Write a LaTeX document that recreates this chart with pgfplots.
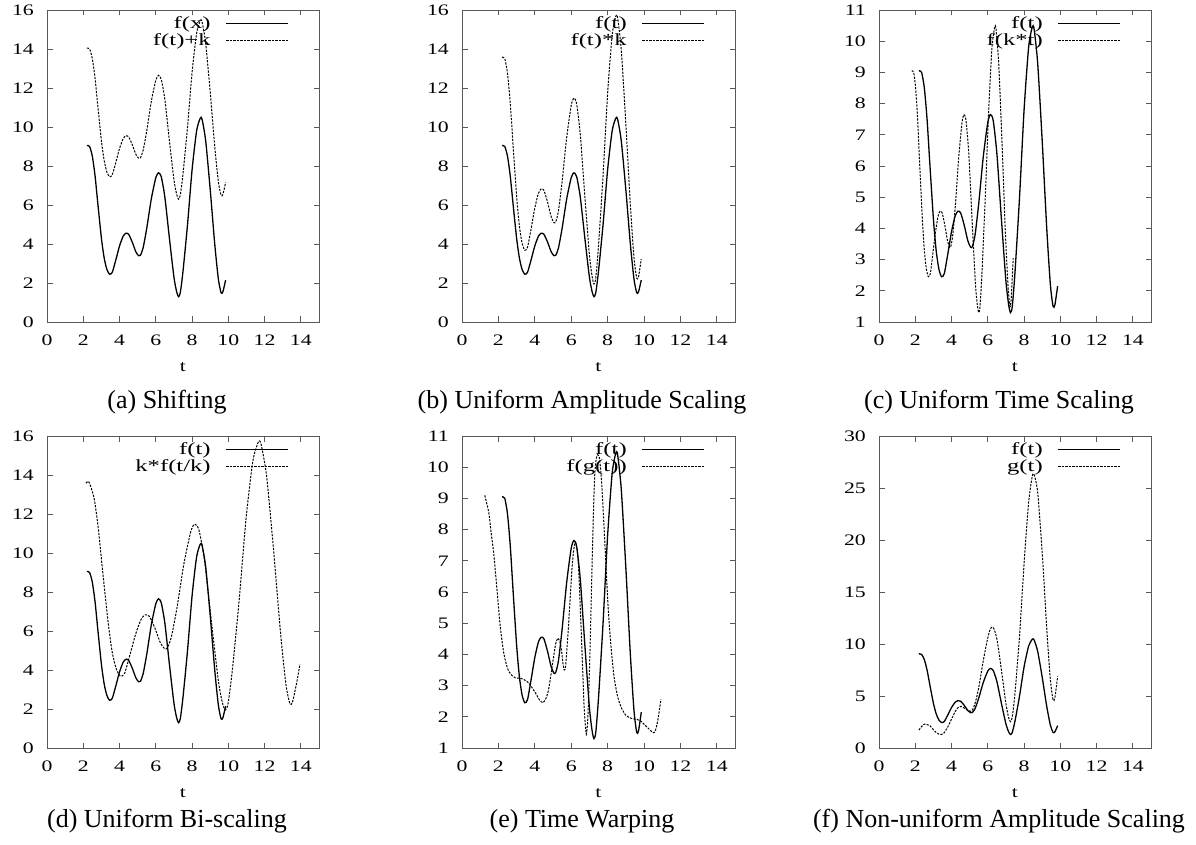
\documentclass[border=0pt]{standalone}
\usepackage{pgfplots}
\pgfplotsset{compat=1.18}
\usepackage{pgfplotstable}
\usepackage{graphicx}
\usepackage{fontspec}
\setmainfont{Liberation Serif}
\newcommand{\gps}[1]{\scalebox{1.36}[1]{\fontsize{16}{18}\selectfont #1}}
\newcommand{\gpl}[1]{\scalebox{1.45}[1]{\fontsize{17}{19}\selectfont #1}}

\pgfplotstableread{
t f fa fb g
2.20 9.05 14.05 13.58 1.72
2.35 9.00 14.00 13.50 2.07
2.50 8.50 13.50 12.75 2.30
2.65 7.50 12.50 11.25 2.25
2.80 6.10 11.10 9.15 2.15
3.00 4.30 9.30 6.45 1.76
3.15 3.30 8.30 4.95 1.50
3.30 2.70 7.70 4.05 1.33
3.45 2.45 7.45 3.68 1.30
3.60 2.55 7.55 3.83 1.48
3.80 3.20 8.20 4.80 2.05
4.00 3.90 8.90 5.85 2.77
4.20 4.40 9.40 6.60 3.50
4.35 4.55 9.55 6.83 3.87
4.50 4.50 9.50 6.75 4.00
4.70 4.10 9.10 6.15 3.85
4.90 3.60 8.60 5.40 3.60
5.05 3.40 8.40 5.10 3.53
5.15 3.42 8.42 5.13 3.64
5.30 3.80 8.80 5.70 4.30
5.50 4.80 9.80 7.20 5.80
5.75 6.30 11.30 9.45 8.40
6.00 7.40 12.40 11.10 10.60
6.15 7.65 12.65 11.48 11.48
6.30 7.45 12.45 11.18 11.60
6.50 6.40 11.40 9.60 10.50
6.75 4.30 9.30 6.45 7.50
7.00 2.30 7.30 3.45 4.25
7.15 1.55 6.55 2.33 2.90
7.25 1.30 6.30 1.95 2.54
7.35 1.50 6.50 2.25 2.99
7.50 2.60 7.60 3.90 5.30
7.75 5.00 10.00 7.50 10.80
8.00 7.80 12.80 11.70 17.70
8.25 9.80 14.80 14.70 23.60
8.45 10.45 15.45 15.68 26.10
8.55 10.40 15.40 15.60 26.30
8.75 9.30 14.30 13.95 24.60
9.00 6.80 11.80 10.20 18.80
9.25 4.00 9.00 6.00 11.50
9.45 2.20 7.20 3.30 6.60
9.60 1.50 6.50 2.25 4.60
9.70 1.55 6.55 2.33 4.84
9.85 2.15 7.15 3.23 6.88
}\base

\pgfplotstableread{
x y
1.80 9.05
1.91 9.00
2.02 8.50
2.13 7.50
2.24 6.10
2.39 4.30
2.50 3.30
2.61 2.70
2.72 2.45
2.83 2.55
2.97 3.20
3.12 3.90
3.26 4.40
3.37 4.55
3.48 4.50
3.63 4.10
3.78 3.60
3.89 3.40
3.96 3.42
4.07 3.80
4.22 4.80
4.40 6.30
4.58 7.40
4.69 7.65
4.80 7.45
4.95 6.40
5.13 4.30
5.31 2.30
5.42 1.55
5.50 1.30
5.57 1.50
5.68 2.60
5.86 5.00
6.05 7.80
6.23 9.80
6.38 10.45
6.45 10.40
6.60 9.30
6.78 6.80
6.96 4.00
7.11 2.20
7.22 1.50
7.29 1.75
7.40 3.05
}\cdash

\pgfplotstableread{
x y
2.15 13.58
2.27 13.68
2.38 13.50
2.61 12.75
2.83 11.25
3.06 9.15
3.37 6.45
3.59 4.95
3.82 4.05
4.05 3.68
4.28 3.83
4.58 4.80
4.89 5.85
5.19 6.60
5.42 6.83
5.65 6.75
5.95 6.15
6.25 5.40
6.48 5.10
6.63 5.13
6.86 5.70
7.17 7.20
7.55 9.45
7.93 11.10
8.15 11.48
8.38 11.18
8.69 9.60
9.07 6.45
9.45 3.45
9.67 2.33
9.83 1.95
9.98 2.25
10.21 3.90
10.59 7.50
10.97 11.70
11.35 14.70
11.65 15.68
11.80 15.60
12.11 13.95
12.49 10.20
12.87 6.00
13.17 3.30
13.40 2.25
13.55 2.40
13.78 3.40
13.95 4.30
}\ddash

\pgfplotstableread{
x y
1.25 9.10
1.47 8.55
1.60 7.90
1.74 7.26
1.92 6.09
2.10 4.90
2.29 4.06
2.45 3.65
2.56 3.47
2.75 3.32
2.93 3.25
3.30 3.22
3.66 3.09
4.03 2.77
4.25 2.55
4.45 2.45
4.62 2.60
4.76 2.88
4.90 3.40
5.04 3.95
5.15 4.35
5.27 4.52
5.38 4.40
5.46 4.16
5.55 3.70
5.62 3.50
5.70 3.65
5.86 5.00
6.04 6.73
6.15 7.40
6.23 7.60
6.32 7.40
6.41 6.73
6.56 4.60
6.70 2.45
6.78 1.70
6.83 1.44
6.90 1.80
6.96 2.67
7.05 4.50
7.14 6.73
7.22 8.50
7.29 9.72
7.37 10.25
7.45 10.40
7.55 10.30
7.65 9.70
7.75 8.70
7.88 7.20
8.02 5.60
8.18 4.30
8.35 3.30
8.55 2.65
8.75 2.30
9.00 2.05
9.30 1.95
9.60 1.92
9.85 1.85
10.15 1.68
10.50 1.49
10.62 1.55
10.73 1.80
10.83 2.15
10.93 2.56
}\edash

\pgfplotsset{
  gp/.style={
    scale only axis, width=272pt, height=312pt,
    xmin=0, xmax=15, xtick={0,2,...,14},
    tick align=inside, major tick length=5.5pt,
    axis line style={black!65, line width=0.9pt},
    every tick/.style={black!65, line width=0.8pt},
    xticklabel={\gps{\pgfmathprintnumber[assume math mode=true]{\tick}}},
    yticklabel={\gps{\pgfmathprintnumber[assume math mode=true]{\tick}}},
    xticklabel style={anchor=north, inner sep=0pt, yshift=-12.5pt},
    yticklabel style={anchor=east, inner sep=0pt, xshift=-13pt},
    xlabel={\gps{t}},
    xlabel style={at={(axis description cs:0.5,0)}, anchor=center, yshift=-45pt, inner sep=0pt},
    legend style={draw=none, fill=none, at={(axis description cs:1,1)}, anchor=north east,
      xshift=-30pt, yshift=-7pt, inner sep=0pt, outer sep=0pt,
      column sep=15pt, row sep=3pt, nodes={inner sep=0pt}},
    legend plot pos=right, legend cell align=right,
    legend image code/.code={\draw[##1] (0pt,0pt) -- (62pt,0pt);},
  },
  sol/.style={black, line width=1.3pt, smooth, tension=0.4, mark=none},
  dsh/.style={black, line width=1.0pt, dash pattern=on 2.2pt off 1.3pt, smooth, tension=0.4, mark=none},
}

\begin{document}
\begin{tikzpicture}
\useasboundingbox (0pt,0pt) rectangle (1196pt,844pt);
\tikzset{mycap/.style={font=\fontsize{26}{30}\selectfont, inner sep=0pt}}

% (a)
\begin{axis}[gp, at={(47pt,522pt)}, anchor=south west, ymin=0, ymax=16, ytick={0,2,...,16}]
\addplot[sol] table[x=t, y=f] {\base};
\addlegendentry{\gpl{f(x)}}
\addplot[dsh] table[x=t, y=fa] {\base};
\addlegendentry{\gpl{f(t)+k}}
\end{axis}
\node[mycap] at (167pt,442pt) {(a) Shifting};

% (b)
\begin{axis}[gp, width=273pt, at={(462pt,522pt)}, anchor=south west, ymin=0, ymax=16, ytick={0,2,...,16}]
\addplot[sol] table[x=t, y=f] {\base};
\addlegendentry{\gpl{f(t)}}
\addplot[dsh] table[x=t, y=fb] {\base};
\addlegendentry{\gpl{f(t)*k}}
\end{axis}
\node[mycap] at (582pt,442pt) {(b) Uniform Amplitude Scaling};

% (c)
\begin{axis}[gp, at={(879pt,522pt)}, anchor=south west, ymin=1, ymax=11, ytick={1,2,...,11}]
\addplot[sol] table[x=t, y=f] {\base};
\addlegendentry{\gpl{f(t)}}
\addplot[dsh] table[x=x, y=y] {\cdash};
\addlegendentry{\gpl{f(k*t)}}
\end{axis}
\node[mycap] at (999pt,442pt) {(c) Uniform Time Scaling};

% (d)
\begin{axis}[gp, at={(47pt,96pt)}, anchor=south west, ymin=0, ymax=16, ytick={0,2,...,16}]
\addplot[sol] table[x=t, y=f] {\base};
\addlegendentry{\gpl{f(t)}}
\addplot[dsh] table[x=x, y=y] {\ddash};
\addlegendentry{\gpl{k*f(t/k)}}
\end{axis}
\node[mycap] at (167pt,23pt) {(d) Uniform Bi-scaling};

% (e)
\begin{axis}[gp, width=273pt, at={(462pt,96pt)}, anchor=south west, ymin=1, ymax=11, ytick={1,2,...,11}]
\addplot[sol] table[x=t, y=f] {\base};
\addlegendentry{\gpl{f(t)}}
\addplot[dsh] table[x=x, y=y] {\edash};
\addlegendentry{\gpl{f(g(t))}}
\end{axis}
\node[mycap] at (582pt,23pt) {(e) Time Warping};

% (f)
\begin{axis}[gp, at={(879pt,96pt)}, anchor=south west, ymin=0, ymax=30, ytick={0,5,...,30}]
\addplot[sol] table[x=t, y=f] {\base};
\addlegendentry{\gpl{f(t)}}
\addplot[dsh] table[x=t, y=g] {\base};
\addlegendentry{\gpl{g(t)}}
\end{axis}
\node[mycap] at (999pt,23pt) {(f) Non-uniform Amplitude Scaling};
\end{tikzpicture}
\end{document}
